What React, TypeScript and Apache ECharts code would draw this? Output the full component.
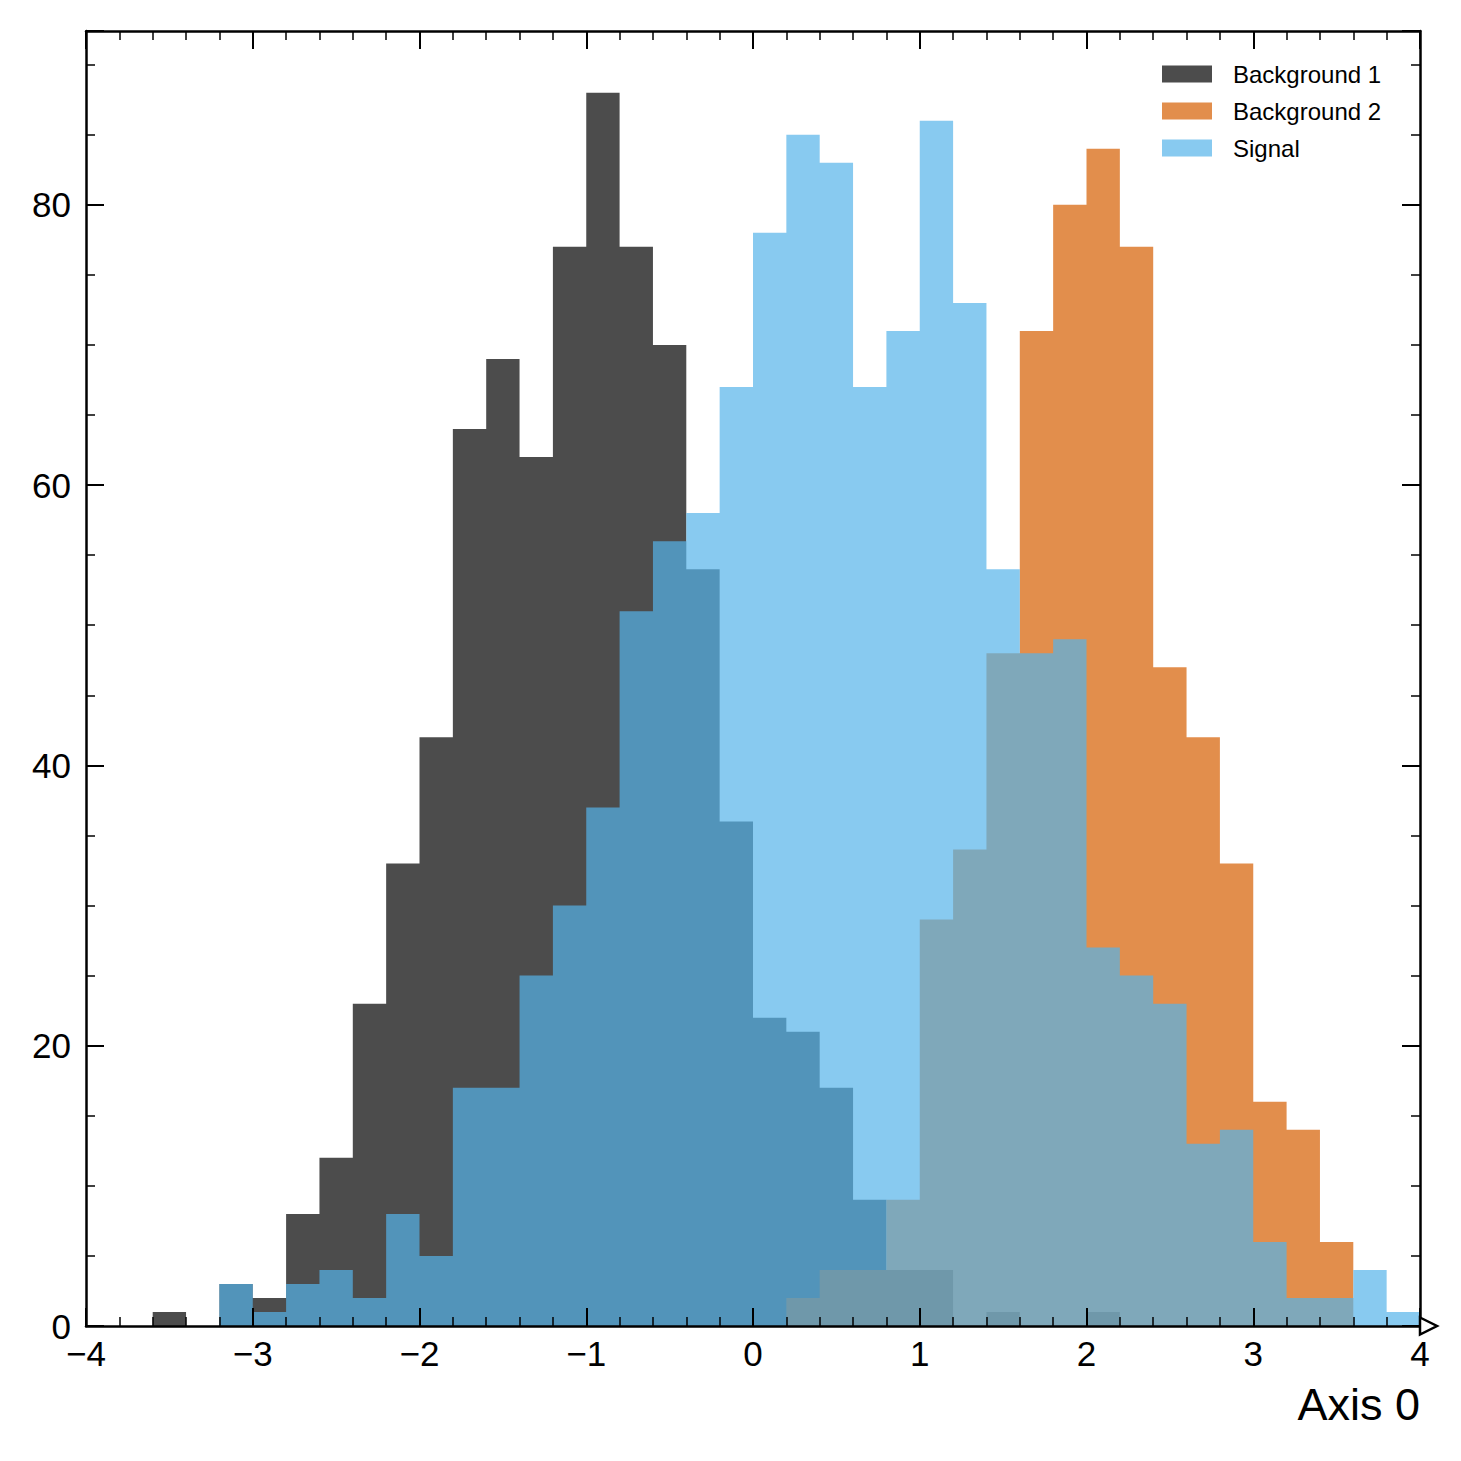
import React, { useEffect, useRef } from "react";
import * as echarts from "echarts";

// Histogram bin edges (40 bins of width 0.2 from -4 to 4)
const binEdges = [
  -4, -3.8, -3.6, -3.4, -3.2, -3, -2.8, -2.6, -2.4, -2.2,
  -2, -1.8, -1.6, -1.4, -1.2, -1, -0.8, -0.6, -0.4, -0.2,
  0, 0.2, 0.4, 0.6, 0.8, 1, 1.2, 1.4, 1.6, 1.8,
  2, 2.2, 2.4, 2.6, 2.8, 3, 3.2, 3.4, 3.6, 3.8, 4,
];

const seriesNames = ["Background 1", "Background 2", "Signal"];

const background1 = [
  0, 0, 1, 0, 3, 2, 8, 12, 23, 33,
  42, 64, 69, 62, 77, 88, 77, 70, 54, 36,
  22, 21, 17, 9, 4, 4, 0, 1, 0, 0,
  1, 0, 0, 0, 0, 0, 0, 0, 0, 0,
];

const background2 = [
  0, 0, 0, 0, 0, 0, 0, 0, 0, 0,
  0, 0, 0, 0, 0, 0, 0, 0, 0, 0,
  0, 2, 4, 4, 9, 29, 34, 48, 71, 80,
  84, 77, 47, 42, 33, 16, 14, 6, 0, 0,
];

const signal = [
  0, 0, 0, 0, 3, 1, 3, 4, 2, 8,
  5, 17, 17, 25, 30, 37, 51, 56, 58, 67,
  78, 85, 83, 67, 71, 86, 73, 54, 48, 49,
  27, 25, 23, 13, 14, 6, 2, 2, 4, 1,
];

const seriesColors = ["rgba(0,0,0,0.7)", "rgba(213,94,0,0.7)", "rgba(86,180,233,0.7)"];

const FONT = "'Liberation Sans', Arial, Helvetica, sans-serif";

const X_MIN = -4;
const X_MAX = 4;
const Y_MIN = 0;
const Y_MAX = 92.4;

function histSeries(name: string, values: number[], color: string) {
  return {
    name,
    type: "custom",
    xAxisIndex: 0,
    yAxisIndex: 0,
    clip: false,
    itemStyle: { color },
    data: [[0, 0]],
    renderItem: (_params: any, api: any) => {
      const pts: number[][] = [];
      pts.push(api.coord([binEdges[0], 0]));
      values.forEach((v, k) => {
        pts.push(api.coord([binEdges[k], v]));
        pts.push(api.coord([binEdges[k + 1], v]));
      });
      pts.push(api.coord([binEdges[binEdges.length - 1], 0]));
      return {
        type: "polygon",
        shape: { points: pts },
        style: { fill: color, stroke: null },
      };
    },
  };
}

const minus = (v: number) => (v < 0 ? "\u2212" + Math.abs(v) : String(v));

export default function App() {
  const ref = useRef<HTMLDivElement>(null);

  useEffect(() => {
    if (!ref.current) return;
    const chart = echarts.init(ref.current, undefined, { renderer: "svg" });

    const spine = { show: true, onZero: false, lineStyle: { color: "#000", width: 2.5 } };
    const noSpine = { show: false, onZero: false };
    const majorTick = { show: true, inside: true, length: 18, lineStyle: { color: "#000", width: 2 } };
    const minorTick = { show: true, inside: true, length: 9, lineStyle: { color: "#000", width: 1.5 } };

    const gridLeft = 86;
    const gridTop = 31;
    const gridW = 1334;
    const gridH = 1295;
    const gridRight = gridLeft + gridW;
    const gridBottom = gridTop + gridH;

    chart.setOption({
      animation: false,
      backgroundColor: "#fff",
      textStyle: { fontFamily: FONT },
      grid: { left: gridLeft, top: gridTop, width: gridW, height: gridH, containLabel: false },
      xAxis: [
        {
          type: "value",
          position: "bottom",
          min: X_MIN,
          max: X_MAX,
          interval: 1,
          z: 10,
          axisLine: spine,
          axisTick: majorTick,
          minorTick: { ...minorTick, splitNumber: 5 },
          splitLine: { show: false },
          minorSplitLine: { show: false },
          axisLabel: {
            show: true,
            color: "#000",
            fontSize: 35,
            fontFamily: FONT,
            margin: 10,
            formatter: minus,
          },
        },
        {
          type: "value",
          position: "top",
          min: X_MIN,
          max: X_MAX,
          interval: 1,
          z: 10,
          axisLine: spine,
          axisTick: majorTick,
          minorTick: { ...minorTick, splitNumber: 5 },
          splitLine: { show: false },
          axisLabel: { show: false },
        },
      ],
      yAxis: [
        {
          type: "value",
          position: "left",
          min: Y_MIN,
          max: Y_MAX,
          interval: 20,
          z: 10,
          axisLine: spine,
          axisTick: majorTick,
          splitLine: { show: false },
          axisLabel: {
            show: true,
            color: "#000",
            fontSize: 35,
            fontFamily: FONT,
            margin: 15,
            formatter: (v: number) => (Math.abs(v % 20) < 1e-9 ? String(v) : ""),
          },
        },
        {
          type: "value",
          position: "left",
          min: Y_MIN,
          max: Y_MAX,
          interval: 5,
          z: 10,
          axisLine: noSpine,
          axisTick: minorTick,
          splitLine: { show: false },
          axisLabel: { show: false },
        },
        {
          type: "value",
          position: "right",
          min: Y_MIN,
          max: Y_MAX,
          interval: 20,
          z: 10,
          axisLine: spine,
          axisTick: majorTick,
          splitLine: { show: false },
          axisLabel: { show: false },
        },
        {
          type: "value",
          position: "right",
          min: Y_MIN,
          max: Y_MAX,
          interval: 5,
          z: 10,
          axisLine: noSpine,
          axisTick: minorTick,
          splitLine: { show: false },
          axisLabel: { show: false },
        },
      ],
      legend: {
        orient: "vertical",
        left: 1162,
        top: 62,
        padding: 0,
        itemWidth: 50,
        itemHeight: 17,
        itemGap: 13,
        icon: "rect",
        selectedMode: false,
        textStyle: { fontSize: 24, color: "#000", fontFamily: FONT, padding: [0, 0, 0, 16] },
        data: seriesNames,
      },
      graphic: [
        {
          type: "polygon",
          z: 100,
          shape: {
            points: [
              [gridRight, gridBottom - 8.5],
              [gridRight + 17, gridBottom],
              [gridRight, gridBottom + 8.5],
            ],
          },
          style: { fill: "#fff", stroke: "#000", lineWidth: 2.5 },
        },
        {
          type: "text",
          z: 100,
          x: gridRight,
          y: 1404,
          style: {
            text: "Axis 0",
            fill: "#000",
            fontSize: 45,
            fontFamily: FONT,
            align: "right",
            verticalAlign: "middle",
          },
        },
      ],
      series: [
        histSeries(seriesNames[0], background1, seriesColors[0]),
        histSeries(seriesNames[1], background2, seriesColors[1]),
        histSeries(seriesNames[2], signal, seriesColors[2]),
      ],
    });

    return () => chart.dispose();
  }, []);

  return (
    <div
      ref={ref}
      style={{ position: "absolute", left: 0, top: 0, width: 1461, height: 1461 }}
    />
  );
}
